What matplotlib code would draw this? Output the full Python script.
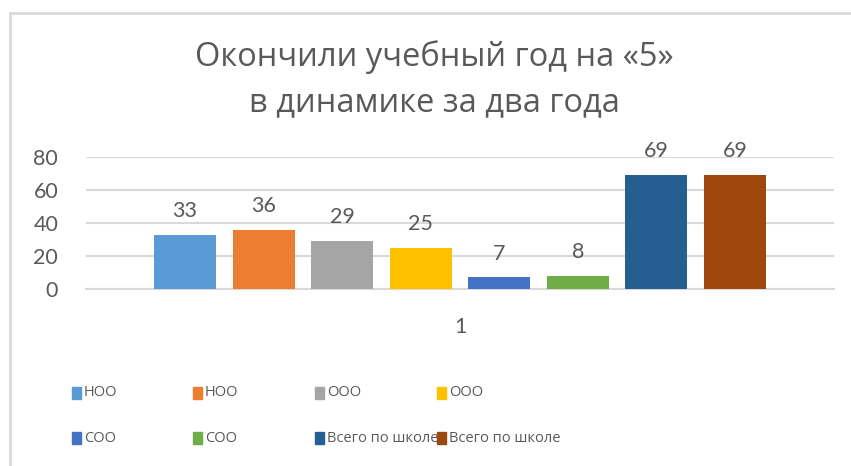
import matplotlib.pyplot as plt
from matplotlib.patches import Rectangle
from matplotlib.lines import Line2D

# data
labels = ["НОО", "НОО", "ООО", "ООО", "СОО", "СОО", "Всего по школе", "Всего по школе"]
values = [33, 36, 29, 25, 7, 8, 69, 69]
colors = ["#5B9BD5", "#ED7D31", "#A5A5A5", "#FFC000",
          "#4472C4", "#70AD47", "#255E91", "#9E480E"]
category = "1"
yticks = [0, 20, 40, 60, 80]

plt.rcParams['font.family'] = ['Lato', 'DejaVu Sans']
txt = "#595959"
grid = "#D9D9D9"

fig = plt.figure(figsize=(8.51, 4.66), dpi=100)
ax = fig.add_axes([86/851, 1-289/466, (834-86)/851, (289-157)/466])

# chart border (only left/top visible in the reference)
fig.add_artist(Line2D([10/851, 10/851], [0, 1-13/466], color=grid, lw=2))
fig.add_artist(Line2D([10/851, 1], [1-13/466, 1-13/466], color=grid, lw=2))

x = list(range(len(values)))
bars = ax.bar(x, values, width=0.79, color=colors, zorder=3)
for b, v in zip(bars, values):
    ax.annotate(str(v), (b.get_x() + b.get_width()/2, v), xytext=(0, 10),
                textcoords="offset points", ha="center", va="bottom",
                fontsize=15.5, color=txt)

ax.set_xlim(-1.26, 8.26)
ax.set_ylim(0, 80)
ax.set_yticks(yticks)
ax.tick_params(axis="y", length=0, labelsize=15.5, labelcolor=txt, pad=20)
ax.set_xticks([3.5])
ax.set_xticklabels([category])
ax.tick_params(axis="x", length=0, labelsize=15.5, labelcolor=txt, pad=20)
ax.yaxis.grid(True, color=grid, lw=1.5, zorder=0)
for s in ["top", "right", "left"]:
    ax.spines[s].set_visible(False)
ax.spines["bottom"].set_color(grid)
ax.spines["bottom"].set_linewidth(1.5)

fig.text(434/851, 1-57/466, "Окончили учебный год на «5»", ha="center", va="center",
         fontsize=23.5, color=txt, family=['Open Sans', 'DejaVu Sans'])
fig.text(434/851, 1-103/466, "в динамике за два года", ha="center", va="center",
         fontsize=23.5, color=txt, family=['Open Sans', 'DejaVu Sans'])

# legend, 4 equal columns x 2 rows like Excel
col_x = [72, 193, 315, 437]
row_y = [393, 438]
for i, (lab, c) in enumerate(zip(labels, colors)):
    cx = col_x[i % 4]
    cy = row_y[i // 4]
    fig.add_artist(Rectangle((cx/851, 1-(cy+6)/466), 9/851, 12/466,
                             color=c, transform=fig.transFigure))
    fig.text((cx+12)/851, 1-cy/466, lab, ha="left", va="center",
             fontsize=10.5, color=txt, family=['Open Sans', 'DejaVu Sans'])

fig.savefig("out.png")
